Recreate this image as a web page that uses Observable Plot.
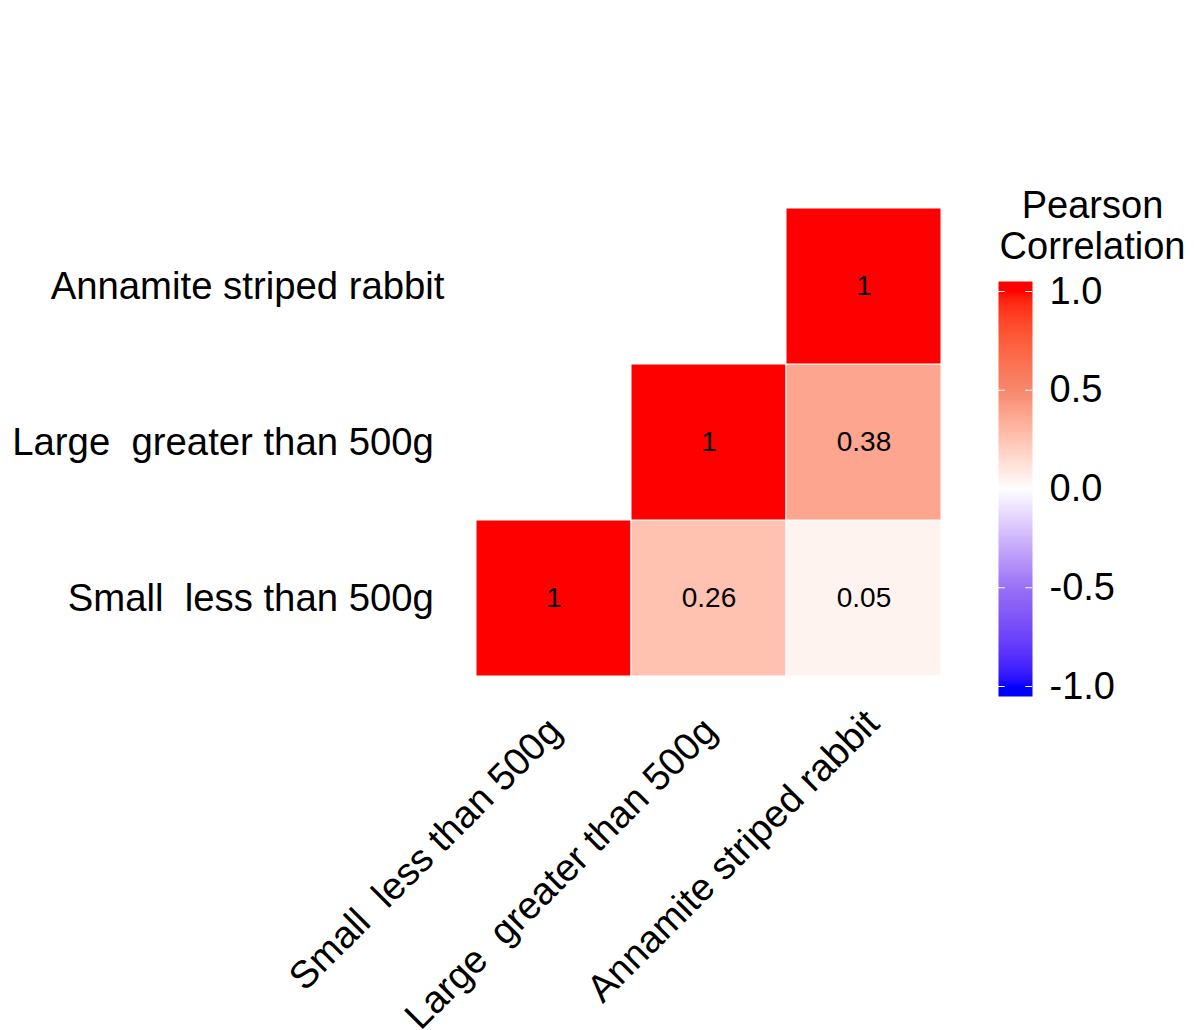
<!DOCTYPE html>
<html>
<head>
<meta charset="utf-8">
<script src="https://cdn.jsdelivr.net/npm/d3@7"></script>
<script src="https://cdn.jsdelivr.net/npm/@observablehq/plot@0.6"></script>
<style>
  html, body { margin: 0; padding: 0; background: white; }
  #wrap { position: relative; width: 1194px; height: 1030px; }
  #legend { position: absolute; left: 990px; top: 180px; width: 204px; height: 530px; }
  svg text { white-space: pre; }
</style>
</head>
<body>
<div id="wrap"><div id="main"></div><div id="legend"></div></div>
<script>
// Categories (labels as in the reference: parentheses replaced by spaces)
const species = ["Small  less than 500g ", "Large  greater than 500g ", "Annamite striped rabbit"];

// Lower-triangle cells
const cellCol = [species[0], species[1], species[2], species[1], species[2], species[2]];
const cellRow = [species[0], species[0], species[0], species[1], species[1], species[2]];
const corr    = [1, 0.26, 0.05, 1, 0.38, 1];

// Legend ticks
const legendTicks = [-1, -0.5, 0, 0.5, 1];
const legendTickLabels = ["-1.0", "-0.5", "0.0", "0.5", "1.0"];
const legendTitle = "Pearson\nCorrelation";

// Colour stops at -1, -0.5, 0, 0.5, 1 (as seen in the reference)
const colorStops = ["#0000FF", "#9871F5", "#FFFFFF", "#F7886D", "#FF0000"];

const cells = corr.map((r, i) => ({col: cellCol[i], row: cellRow[i], r}));
const ticks = legendTicks.map((v, i) => ({v, label: legendTickLabels[i]}));

const colorScale = {
  type: "linear",
  domain: [-1, 1],
  interpolate: d3.piecewise(d3.interpolateLab, colorStops),
  clamp: true
};
const font = "'Liberation Sans', Arial, sans-serif";

const main = Plot.plot({
  width: 1194,
  height: 1030,
  marginLeft: 475,
  marginRight: 252,
  marginTop: 208,
  marginBottom: 354,
  style: {fontFamily: font, background: "white", maxWidth: "none"},
  x: {domain: species, padding: 0, axis: null},
  y: {domain: [...species].reverse(), padding: 0, axis: null},
  color: colorScale,
  marks: [
    Plot.cell(cells, {x: "col", y: "row", fill: "r", stroke: "white", strokeWidth: 1}),
    Plot.text(cells, {x: "col", y: "row", text: d => String(d.r), fontSize: 28, fill: "black"}),
    Plot.text(species, {y: d => d, frameAnchor: "left", textAnchor: "end", lineAnchor: "middle", dx: -31, fontSize: 38.3, fill: "black"}),
    Plot.text(species, {x: d => d, frameAnchor: "bottom", textAnchor: "end", lineAnchor: "top", rotate: -45, dx: -2, dy: 30, fontSize: 38.3, fill: "black"})
  ]
});
document.getElementById("main").appendChild(main);

const legend = Plot.plot({
  width: 204,
  height: 530,
  margin: 0,
  style: {fontFamily: font, background: "transparent", maxWidth: "none", overflow: "visible"},
  x: {domain: [0, 1], range: [8, 42], axis: null},
  y: {domain: [-1, 1], range: [506, 111], axis: null},
  color: colorScale,
  marks: [
    Plot.raster({fill: (x, y) => y, x1: 0, x2: 1, y1: -1.0506, y2: 1.0506, width: 2, height: 420}),
    Plot.ruleY(ticks, {y: "v", x1: 0, x2: 0.2, stroke: "white", strokeWidth: 1}),
    Plot.ruleY(ticks, {y: "v", x1: 0.8, x2: 1, stroke: "white", strokeWidth: 1}),
    Plot.text(ticks, {y: "v", x: 1, text: "label", textAnchor: "start", lineAnchor: "middle", dx: 17, fontSize: 38, fill: "black"}),
    Plot.text([legendTitle], {frameAnchor: "top", textAnchor: "middle", lineAnchor: "top", dy: 8, lineHeight: 1.08, fontSize: 38, fill: "black"})
  ]
});
document.getElementById("legend").appendChild(legend);
</script>
</body>
</html>
